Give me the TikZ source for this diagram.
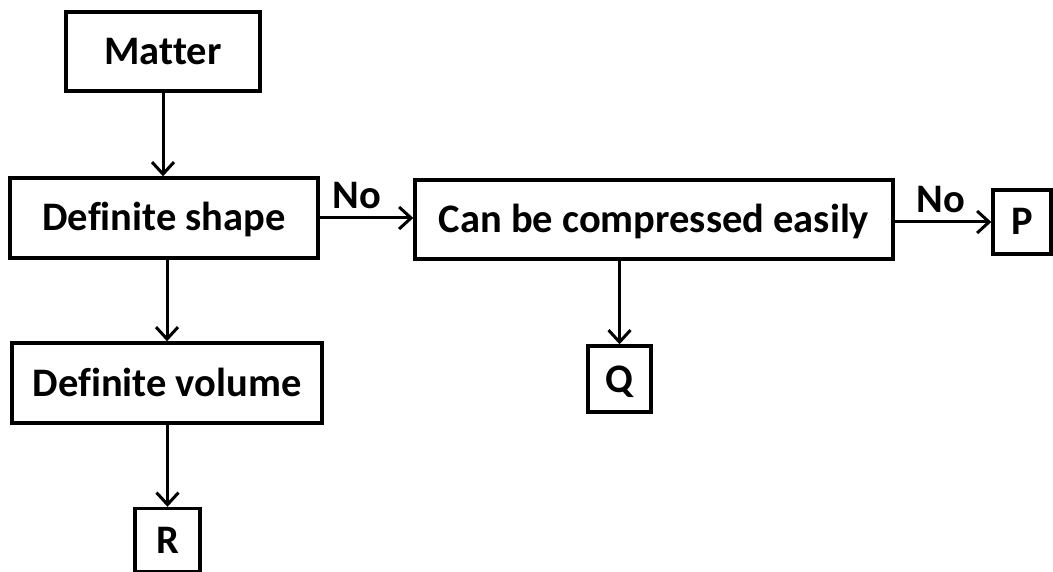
\documentclass[tikz,border=0pt]{standalone}
\usepackage{fontspec}
\setmainfont{Carlito}[Ligatures={NoCommon}]
\usetikzlibrary{arrows.meta}
\tikzset{
  box/.style={draw=black, line width=3.4pt, fill=white, inner sep=0pt,
    font=\fontsize{40.5}{48}\selectfont\bfseries, text height=26pt, text depth=0pt, align=center},
  conn/.style={line width=3pt, -{Straight Barb[length=12pt,width=22pt,line width=3pt]}},
  lbl/.style={font=\fontsize{40.5}{48}\selectfont\bfseries, inner sep=0pt}
}
\begin{document}
\begin{tikzpicture}[x=1pt,y=-1pt]
\useasboundingbox (0,0) rectangle (1053,572);
\node[box, minimum width=194pt, minimum height=79pt] (matter) at (163,51.5) {Matter};
\node[box, minimum width=308pt, minimum height=80pt] (shape) at (164,218) {Definite shape};
\node[box, minimum width=478pt, minimum height=79pt] (comp) at (654,219.5) {Can be compressed easily};
\node[box, minimum width=58pt, minimum height=64pt] (P) at (1022,222) {P};
\node[box, minimum width=63pt, minimum height=66pt] (Q) at (619.5,379) {Q};
\node[box, minimum width=310pt, minimum height=80pt] (vol) at (167,383) {Definite volume};
\node[box, minimum width=65pt, minimum height=63pt] (R) at (167.5,540) {R};

\draw[conn] (matter.south) -- (matter.south |- shape.north);
\draw[conn] (shape.east) -- (shape.east -| comp.west) node[lbl, pos=0.4, anchor=south, yshift=8pt] (no1) {No};
\draw[conn] (comp.east |- P.west) -- (P.west) node[lbl, pos=0.48, anchor=south, yshift=8pt] (no2) {No};
\draw[conn] (Q.north |- comp.south) -- (Q.north);
\draw[conn] (vol.north |- shape.south) -- (vol.north);
\draw[conn] (vol.south) -- (vol.south -| R.north) -- (R.north);
\end{tikzpicture}
\end{document}
